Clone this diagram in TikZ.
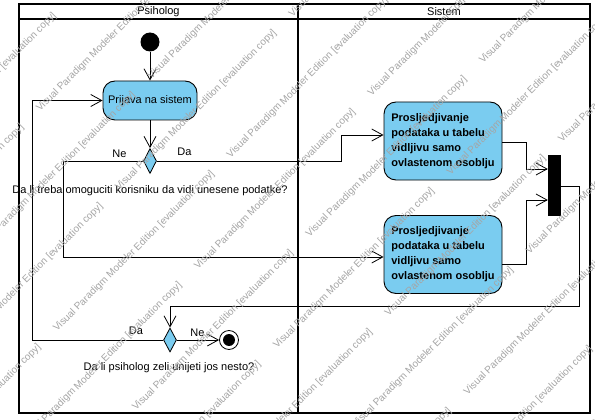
\documentclass[tikz,border=0pt]{standalone}
\usepackage{fontspec}
\setmainfont{Liberation Sans}
\usetikzlibrary{arrows.meta,shapes.geometric}
\definecolor{actfill}{RGB}{122,204,240}
\definecolor{wmgray}{RGB}{165,165,165}
\begin{document}
\begin{tikzpicture}[x=1pt,y=-1pt,
  font=\fontsize{11}{15}\selectfont,
  frame/.style={line width=1.6pt},
  flow/.style={line width=0.8pt,-{Straight Barb[length=11pt,width=12pt,line width=0.8pt]}},
  actnode/.style={draw,line width=0.9pt,fill=actfill,rounded corners=12pt,inner sep=0pt},
  sysact/.style={actnode,minimum width=118pt,minimum height=78pt,font=\fontsize{11}{15}\selectfont\bfseries,align=left},
  decnode/.style={diamond,draw,fill=actfill,line width=0.8pt,minimum width=13pt,minimum height=25pt,inner sep=0pt},
  lbl/.style={inner sep=0pt},
  wm/.style={rotate=45,anchor=base west,inner sep=0pt,text=wmgray,font=\fontsize{10}{12}\selectfont}
]
\useasboundingbox (0,0) rectangle (595,420);
\fill[white] (0,0) rectangle (595,420);
% swimlanes
\draw[frame] (19,4) rectangle (590,413);
\draw[frame] (19,19) -- (590,19);
\draw[frame] (298,4) -- (298,413);
\node[lbl] (h1) at (158.5,11.5) {Psiholog};
\node[lbl] (h2) at (444,11.5) {Sistem};
% nodes
\node[circle,fill=black,minimum size=19pt,inner sep=0pt] (start) at (150,42) {};
\node[actnode,minimum width=94pt,minimum height=39pt] (prijava) at (150,100.5) {Prijava na sistem};
\node[decnode] (d1) at (150,161) {};
\node[sysact] (a1) at (443,141) {Prosljedjivanje\\podataka u tabelu\\vidljivu samo\\ovlastenom osoblju};
\node[sysact] (a2) at (443,254.5) {Prosljedjivanje\\podataka u tabelu\\vidljivu samo\\ovlastenom osoblju};
\node[fill=black,minimum width=13pt,minimum height=61pt,inner sep=0pt] (bar) at (554.5,185.5) {};
\node[decnode,minimum height=24pt] (d2) at (170,340) {};
\node[circle,draw,line width=0.8pt,fill=white,minimum size=19pt,inner sep=0pt] (end) at (229,340) {};
\node[circle,fill=black,minimum size=12pt,inner sep=0pt] (endin) at (end.center) {};
% labels
\node[lbl] (q1) at (150,190.5) {Da li treba omoguciti korisniku da vidi unesene podatke?};
\node[lbl] (q2) at (169,368) {Da li psiholog zeli unijeti jos nesto?};
\node[lbl] (ne1) at (119.5,154) {Ne};
\node[lbl] (da1) at (184.5,152) {Da};
\node[lbl] (da2) at (136,330.5) {Da};
\node[lbl] (ne2) at (197.5,333) {Ne};
% connectors
\draw[flow] (start) -- (prijava);
\draw[flow] (prijava) -- (d1);
\draw[flow] (d1.east) -- (341,161) -- (341,135) -- ([yshift=6pt]a1.west);
\draw[flow] (d1.west) -- (63,161) -- (63,257) -- ([yshift=-2.5pt]a2.west);
\draw[flow] ([yshift=-1pt]a1.east) -- (526,142) -- (526,169) -- ([yshift=16.5pt]bar.west);
\draw[flow] ([yshift=-9.5pt]a2.east) -- (526,264) -- (526,200) -- ([yshift=-14.5pt]bar.west);
\draw[flow] ([yshift=-0.5pt]bar.east) -- (579,186) -- (579,306) -- (170,306) -- (d2.north);
\draw[flow] (d2.west) -- (32,340) -- (32,100.5) -- (prijava.west);
\draw[flow] (d2.east) -- (end.west);
% watermark
\begin{scope}
\clip (0,0) rectangle (595,420);
\foreach \k in {0,...,13}{
  \foreach \m in {-2,...,1}{
    \pgfmathsetmacro{\ws}{(mod(\k,2)==0 ? -72 : 72) + 347*\m}
    \pgfmathsetmacro{\wt}{152+79*(\k-2)}
    \node[wm] at ({(\ws+\wt)/2},{(\wt-\ws)/2}) {Visual Paradigm Modeler Edition [evaluation copy]};
  }
}
\end{scope}
\end{tikzpicture}
\end{document}
